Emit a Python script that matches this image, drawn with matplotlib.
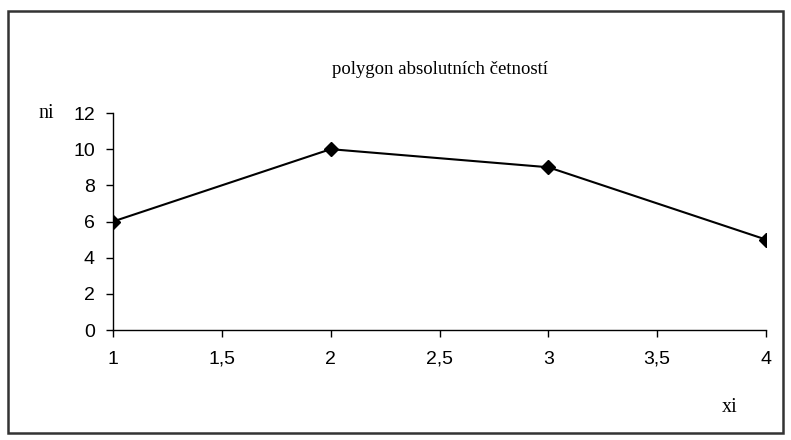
import matplotlib.pyplot as plt
from matplotlib.patches import Rectangle
from matplotlib.ticker import FuncFormatter, MultipleLocator

xi = [1, 2, 3, 4]
ni = [6, 10, 9, 5]

fig = plt.figure(figsize=(7.91, 4.40), dpi=100)
ax = fig.add_axes([113 / 791, 1 - 330 / 440, 653 / 791, 217 / 440])

ax.plot(xi, ni, color='black', linewidth=1.5, marker='D', markersize=7)

ax.set_xlim(1, 4)
ax.set_ylim(0, 12)
ax.xaxis.set_major_locator(MultipleLocator(0.5))
ax.yaxis.set_major_locator(MultipleLocator(2))
ax.xaxis.set_major_formatter(FuncFormatter(lambda v, p: f"{v:g}".replace('.', ',')))

for side in ['top', 'right']:
    ax.spines[side].set_visible(False)
for side in ['left', 'bottom']:
    ax.spines[side].set_linewidth(1)
ax.tick_params(direction='out', length=5, width=1, labelsize=14,
               labelfontfamily='Liberation Sans')
ax.tick_params(axis='x', pad=10)
ax.tick_params(axis='y', pad=8)
ax.patch.set_visible(False)

serif = 'Liberation Serif'
fig.text(440 / 791, 1 - 70 / 440, "polygon absolutních četností", family=serif,
         fontsize=13.5, ha='center', va='center')
fig.text(46 / 791, 1 - 113 / 440, "ni", family=serif, fontsize=14.5, ha='center', va='center')
fig.text(730 / 791, 1 - 407 / 440, "xi", family=serif, fontsize=14.5, ha='center', va='center')

fig.patches.append(Rectangle((7.5 / 791, 1 - 433 / 440), 775 / 791, 421.5 / 440,
                             transform=fig.transFigure, fill=False,
                             edgecolor='#333333', linewidth=1.8))

fig.savefig('out.png', dpi=100)
